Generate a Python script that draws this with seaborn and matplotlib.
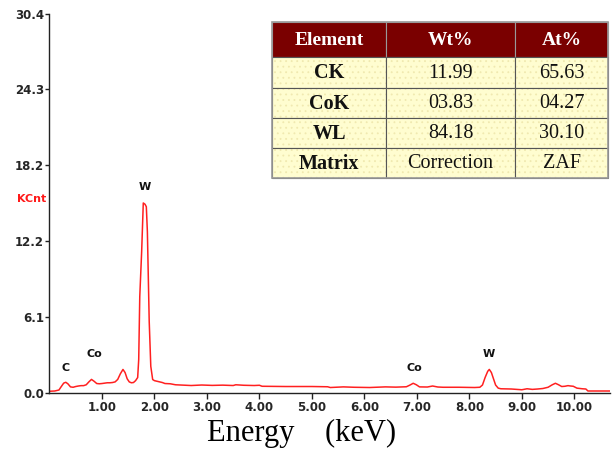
import matplotlib
matplotlib.use("Agg")
import matplotlib.pyplot as plt
import matplotlib.transforms as mtransforms
from matplotlib.patches import Rectangle
import numpy as np
import pandas as pd
import seaborn as sns

# EDS spectrum: energy (keV) vs counts (KCnt)
energy_kev = [
    0.00, 0.10, 0.18, 0.22, 0.27, 0.31, 0.35, 0.40, 0.45, 0.50, 0.55, 0.60,
    0.65, 0.70, 0.75, 0.80, 0.85, 0.90, 0.95, 1.00, 1.05, 1.10, 1.15, 1.20,
    1.25, 1.30, 1.35, 1.40, 1.44, 1.48, 1.52, 1.56, 1.60, 1.64, 1.68, 1.70,
    1.72, 1.756, 1.787, 1.82, 1.845, 1.865, 1.90, 1.93, 1.966, 2.00, 2.05, 2.10,
    2.15, 2.20, 2.30, 2.40, 2.50, 2.70, 2.90, 3.10, 3.30, 3.50, 3.55, 3.70,
    3.90, 4.00, 4.05, 4.50, 5.00, 5.30, 5.35, 5.60, 5.80, 6.10, 6.40, 6.60,
    6.80, 6.87, 6.93, 6.99, 7.05, 7.20, 7.30, 7.40, 7.50, 7.80, 8.10, 8.20,
    8.25, 8.30, 8.35, 8.38, 8.42, 8.46, 8.50, 8.55, 8.60, 8.80, 9.00, 9.10,
    9.20, 9.30, 9.40, 9.50, 9.58, 9.64, 9.70, 9.76, 9.82, 9.88, 9.93, 9.98,
    10.05, 10.15, 10.22, 10.26, 10.45, 10.68,
]
kcnt = [
    0.10, 0.12, 0.20, 0.45, 0.75, 0.82, 0.70, 0.45, 0.42, 0.48, 0.52, 0.55,
    0.55, 0.62, 0.85, 1.05, 0.90, 0.72, 0.70, 0.72, 0.75, 0.78, 0.78, 0.80,
    0.85, 1.05, 1.50, 1.85, 1.60, 1.10, 0.85, 0.78, 0.80, 0.95, 1.20, 2.65,
    7.70, 11.30, 15.20, 15.10, 14.90, 12.90, 5.70, 2.10, 1.04, 0.95, 0.90, 0.85,
    0.80, 0.72, 0.70, 0.62, 0.60, 0.56, 0.60, 0.57, 0.59, 0.56, 0.62, 0.58,
    0.56, 0.58, 0.50, 0.48, 0.48, 0.46, 0.40, 0.45, 0.42, 0.40, 0.45, 0.43,
    0.46, 0.60, 0.74, 0.62, 0.45, 0.44, 0.52, 0.44, 0.42, 0.42, 0.40, 0.42,
    0.60, 1.20, 1.70, 1.85, 1.60, 1.10, 0.60, 0.35, 0.30, 0.28, 0.22, 0.30,
    0.25, 0.28, 0.32, 0.42, 0.62, 0.74, 0.62, 0.48, 0.50, 0.55, 0.52, 0.50,
    0.35, 0.30, 0.28, 0.12, 0.12, 0.12,
]

# Axis ticks
x_ticks = [1, 2, 3, 4, 5, 6, 7, 8, 9, 10]
x_tick_labels = ["1.00", "2.00", "3.00", "4.00", "5.00", "6.00", "7.00",
                 "8.00", "9.00", "10.00"]
y_ticks = [0.0, 6.08, 12.16, 18.24, 24.32, 30.4]
y_tick_labels = ["0.0", "6.1", "12.2", "18.2", "24.3", "30.4"]

# Peak annotations: element, energy, label height
peak_names = ["C", "Co", "W", "Co", "W"]
peak_energy = [0.30, 0.86, 1.82, 6.96, 8.38]
peak_label_y = [1.95, 3.1, 16.5, 2.0, 3.05]

# Quantification table
table_header = ["Element", "Wt%", "At%"]
table_elements = ["CK", "CoK", "WL", "Matrix"]
table_wt = ["11.99", "03.83", "84.18", "Correction"]
table_at = ["65.63", "04.27", "30.10", "ZAF"]

sns.set_theme(style="ticks")
plt.rcParams["font.family"] = ["DejaVu Sans"]
plt.rcParams["hatch.linewidth"] = 0.6

fig = plt.figure(figsize=(6.14, 4.54), dpi=100)
ax = fig.add_axes([49.5 / 614, 61.5 / 454, 560.5 / 614, 379 / 454])

df = pd.DataFrame({"Energy": energy_kev, "KCnt": kcnt})
sns.lineplot(data=df, x="Energy", y="KCnt", ax=ax, color="#ff2020",
             linewidth=1.1, estimator=None, sort=True)

ax.set_xlim(0, 10.68)
ax.set_ylim(0, 30.4)
ax.set_xticks(x_ticks)
ax.set_xticklabels(x_tick_labels, fontsize=8.5, fontweight="bold")
ax.set_yticks(y_ticks)
ax.set_yticklabels(y_tick_labels, fontsize=8.5, fontweight="bold")
ax.tick_params(axis="y", direction="out", length=3, width=1.0,
               color="#222222", pad=1)
ax.tick_params(axis="x", direction="out", length=4, width=1.0,
               color="#222222", pad=2)
for side in ("top", "right"):
    ax.spines[side].set_visible(False)
for side in ("left", "bottom"):
    ax.spines[side].set_linewidth(1.0)
    ax.spines[side].set_color("#222222")
ax.set_ylabel("")
ax.set_xlabel("")
fig.text(302 / 614, 1 - 433 / 454, "Energy    (keV)",
         family="Liberation Serif", fontsize=22, ha="center", va="center",
         color="black")

trans = mtransforms.blended_transform_factory(ax.transAxes, ax.transData)
ax.text(-0.006, 15.5, "KCnt", transform=trans, ha="right", va="center",
        color="#ff1a1a", fontsize=8, fontweight="bold")

for name, xe, ye in zip(peak_names, peak_energy, peak_label_y):
    ax.text(xe, ye, name, ha="center", va="center", fontsize=8,
            fontweight="bold", color="#111111")

# Table drawn in figure pixel coordinates
tab = fig.add_axes([0, 0, 1, 1])
tab.set_xlim(0, 614)
tab.set_ylim(454, 0)
tab.axis("off")

col_edges = [272, 386, 515, 608]
row_edges = [22, 57, 88, 118, 148, 178]
header_color = "#7a0000"
cell_color = "#fffdd0"

rows = [table_header] + [[e, w, a] for e, w, a in
                         zip(table_elements, table_wt, table_at)]
for r, row in enumerate(rows):
    y0, y1 = row_edges[r], row_edges[r + 1]
    for c, txt in enumerate(row):
        x0, x1 = col_edges[c], col_edges[c + 1]
        if r == 0:
            tab.add_patch(Rectangle((x0, y0), x1 - x0, y1 - y0,
                                    facecolor=header_color,
                                    edgecolor="#999999", linewidth=0.8))
            tab.text((x0 + x1) / 2, (y0 + y1) / 2 + 1, txt, ha="center",
                     va="center", color="white", fontsize=14,
                     fontweight="bold", family="Liberation Serif")
        else:
            tab.add_patch(Rectangle((x0, y0), x1 - x0, y1 - y0,
                                    facecolor=cell_color, hatch="...",
                                    edgecolor="#f0e9b0", linewidth=0))
            tab.add_patch(Rectangle((x0, y0), x1 - x0, y1 - y0,
                                    facecolor="none", edgecolor="#555555",
                                    linewidth=0.8))
            bold = c == 0
            tab.text((x0 + x1) / 2, (y0 + y1) / 2 + 1, txt, ha="center",
                     va="center", color="#111111", fontsize=14.5,
                     fontweight="bold" if bold else "normal",
                     family="Liberation Serif")
tab.add_patch(Rectangle((col_edges[0], row_edges[0]),
                        col_edges[-1] - col_edges[0],
                        row_edges[-1] - row_edges[0],
                        facecolor="none", edgecolor="#9a9a9a", linewidth=1.2))

fig.savefig("out.png", dpi=100)
